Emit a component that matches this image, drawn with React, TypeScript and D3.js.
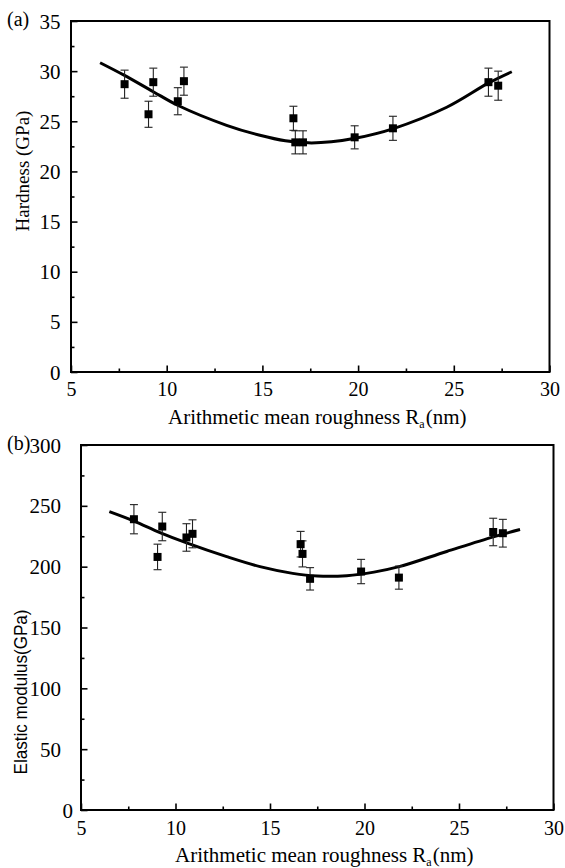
import React, { useEffect, useRef } from "react";
import * as d3 from "d3";

// Ra (nm) of the samples, same for both panels
const roughness = [7.8, 9.05, 9.3, 10.58, 10.9, 16.62, 16.72, 17.12, 19.82, 21.82, 26.81, 27.32];

// (a) hardness
const hardness = [28.7, 25.7, 28.9, 27.0, 29.0, 25.3, 22.9, 22.9, 23.4, 24.3, 28.9, 28.55];
const hardnessErr = [1.4, 1.3, 1.4, 1.35, 1.4, 1.2, 1.15, 1.15, 1.15, 1.2, 1.4, 1.45];

// (b) elastic modulus
const modulus = [239, 208, 233, 224, 227, 218.5, 210.5, 190, 196, 191, 228.5, 227.5];
const modulusErr = [12, 10.5, 11.7, 11.3, 11.5, 10.5, 10.7, 9.2, 10, 9.5, 11.3, 11.4];

// fitted curves
const hardFitRa = [6.52, 7.77, 9.3, 10.57, 13.13, 14.87, 16.2, 17.4, 18.6, 19.84, 21.81, 24.63, 26.8, 28.03];
const hardFit = [30.84, 29.6, 27.95, 26.6, 24.6, 23.6, 23.05, 22.85, 22.95, 23.3, 24.25, 26.4, 28.8, 29.94];
const modFitRa = [6.5, 7.8, 9.18, 10.59, 12.71, 14.47, 16.2, 17.5, 19.06, 20.5, 21.83, 24.35, 26.82, 28.23];
const modFit = [245.2, 237.5, 228, 219.5, 208.2, 200, 194.5, 192.3, 192.6, 195.5, 200, 212.5, 224.5, 230.5];

const xTicks = [5, 10, 15, 20, 25, 30];
const xMinor = [7.5, 12.5, 17.5, 22.5, 27.5];
const hardTicks = [0, 5, 10, 15, 20, 25, 30, 35];
const hardMinor = [2.5, 7.5, 12.5, 17.5, 22.5, 27.5, 32.5];
const modTicks = [0, 50, 100, 150, 200, 250, 300];
const modMinor = [25, 75, 125, 175, 225, 275];

const serif = "'Liberation Serif', 'Times New Roman', serif";
const sans = "'Liberation Sans', Arial, sans-serif";

function drawPanel(svg: any, p: any) {
  const x = d3.scaleLinear().domain([5, 30]).range([p.left, p.right]);
  const y = d3.scaleLinear().domain(p.yDomain).range([p.bottom, p.top]);
  const g = svg.append("g");

  // minor ticks, pointing inward
  const xm = g.append("g").attr("transform", `translate(0,${p.bottom})`)
    .call(d3.axisBottom(x).tickValues(xMinor).tickSize(-3.5).tickFormat(() => ""));
  const ym = g.append("g").attr("transform", `translate(${p.left},0)`)
    .call(d3.axisLeft(y).tickValues(p.yMinor).tickSize(-3.5).tickFormat(() => ""));
  [xm, ym].forEach((a) => {
    a.select(".domain").remove();
    a.selectAll("line").attr("stroke", "#000").attr("stroke-width", 1.6);
  });

  // major ticks
  const xa = g.append("g").attr("transform", `translate(0,${p.bottom})`)
    .call(d3.axisBottom(x).tickValues(xTicks).tickSize(-6.5).tickFormat(d3.format("d")));
  xa.select(".domain").remove();
  xa.selectAll("line").attr("stroke", "#000").attr("stroke-width", 1.6);
  xa.selectAll("text").attr("y", p.xLabelDy).attr("dy", null).attr("fill", "#000")
    .style("font-family", serif).style("font-size", "20px");

  const ya = g.append("g").attr("transform", `translate(${p.left},0)`)
    .call(d3.axisLeft(y).tickValues(p.yTicks).tickSize(-6.5).tickPadding(p.yPad).tickFormat(d3.format("d")));
  ya.select(".domain").remove();
  ya.selectAll("line").attr("stroke", "#000").attr("stroke-width", 1.6);
  ya.selectAll("text").attr("fill", "#000").attr("dy", "0.34em")
    .style("font-family", serif).style("font-size", "21px");
  if (p.zeroX != null) {
    ya.selectAll("text").filter((d: number) => d === 0).attr("x", p.zeroX);
  }

  // frame
  g.append("rect")
    .attr("x", p.left).attr("y", p.top)
    .attr("width", p.right - p.left).attr("height", p.bottom - p.top)
    .attr("fill", "none").attr("stroke", "#000").attr("stroke-width", 2);

  // fit curve
  const line = d3.line<number>()
    .x((d, i) => x(p.fitX[i]))
    .y((d) => y(d))
    .curve(d3.curveCatmullRom.alpha(0.5));
  g.append("path").attr("d", line(p.fitY)).attr("fill", "none")
    .attr("stroke", "#000").attr("stroke-width", 3);

  // error bars
  const eb = g.selectAll(".eb").data(p.values).enter().append("g").attr("class", "eb")
    .attr("stroke", "#222").attr("stroke-width", 1.1);
  eb.append("line")
    .attr("x1", (d: number, i: number) => x(roughness[i])).attr("x2", (d: number, i: number) => x(roughness[i]))
    .attr("y1", (d: number, i: number) => y(d + p.errs[i])).attr("y2", (d: number, i: number) => y(d - p.errs[i]));
  [1, -1].forEach((s) => {
    eb.append("line")
      .attr("x1", (d: number, i: number) => x(roughness[i]) - 4).attr("x2", (d: number, i: number) => x(roughness[i]) + 4)
      .attr("y1", (d: number, i: number) => y(d + s * p.errs[i])).attr("y2", (d: number, i: number) => y(d + s * p.errs[i]));
  });

  // squares
  g.selectAll(".pt").data(p.values).enter().append("rect").attr("class", "pt")
    .attr("x", (d: number, i: number) => x(roughness[i]) - 4)
    .attr("y", (d: number) => y(d) - 4)
    .attr("width", 8).attr("height", 8).attr("fill", "#000");

  // x title with subscript
  const cx = (p.left + p.right) / 2;
  const xt = g.append("text").attr("x", cx + 7).attr("y", p.bottom + p.xTitleDy)
    .attr("text-anchor", "middle").attr("fill", "#000")
    .style("font-family", serif).style("font-size", "21px");
  xt.append("tspan").text("Arithmetic mean roughness R");
  xt.append("tspan").attr("dy", 4).style("font-size", "12px").text("a");
  xt.append("tspan").attr("dy", -4).attr("dx", 1).text("(nm)");

  // y title
  const yt = g.append("text")
    .attr("transform", `translate(${p.yTitleX},${p.yTitleY}) rotate(-90)`)
    .attr("text-anchor", "middle").attr("fill", "#000")
    .style("font-family", p.yTitleFont).style("font-size", p.yTitleSize)
    .text(p.yTitle);
  if (p.yTitleLen) yt.attr("textLength", p.yTitleLen).attr("lengthAdjust", "spacingAndGlyphs");

  // panel letter
  g.append("text").attr("x", 7).attr("y", p.top + 5).attr("fill", "#000")
    .style("font-family", serif).style("font-size", "20px").text(p.letter);
}

export default function App() {
  const ref = useRef<SVGSVGElement>(null);

  useEffect(() => {
    const svg = d3.select(ref.current);
    svg.selectAll("*").remove();

    drawPanel(svg, {
      left: 71, right: 549.5, top: 21, bottom: 372,
      yDomain: [0, 35], yTicks: hardTicks, yMinor: hardMinor, yPad: 10.5,
      xLabelDy: 24, xTitleDy: 52,
      values: hardness, errs: hardnessErr,
      fitX: hardFitRa, fitY: hardFit,
      yTitle: "Hardness (GPa)", yTitleFont: serif, yTitleSize: "19px",
      yTitleX: 29, yTitleY: 171,
      letter: "(a)",
    });

    drawPanel(svg, {
      left: 81, right: 553.5, top: 445, bottom: 810,
      yDomain: [0, 300], yTicks: modTicks, yMinor: modMinor, yPad: 20, zeroX: -8,
      xLabelDy: 25, xTitleDy: 52,
      values: modulus, errs: modulusErr,
      fitX: modFitRa, fitY: modFit,
      yTitle: "Elastic modulus(GPa)", yTitleFont: sans, yTitleSize: "19px", yTitleLen: 165,
      yTitleX: 27, yTitleY: 692,
      letter: "(b)",
    });
  }, []);

  return (
    <div style={{ position: "absolute", left: 0, top: 0 }}>
      <svg ref={ref} width={565} height={868} style={{ display: "block", background: "#fff" }} />
    </div>
  );
}
